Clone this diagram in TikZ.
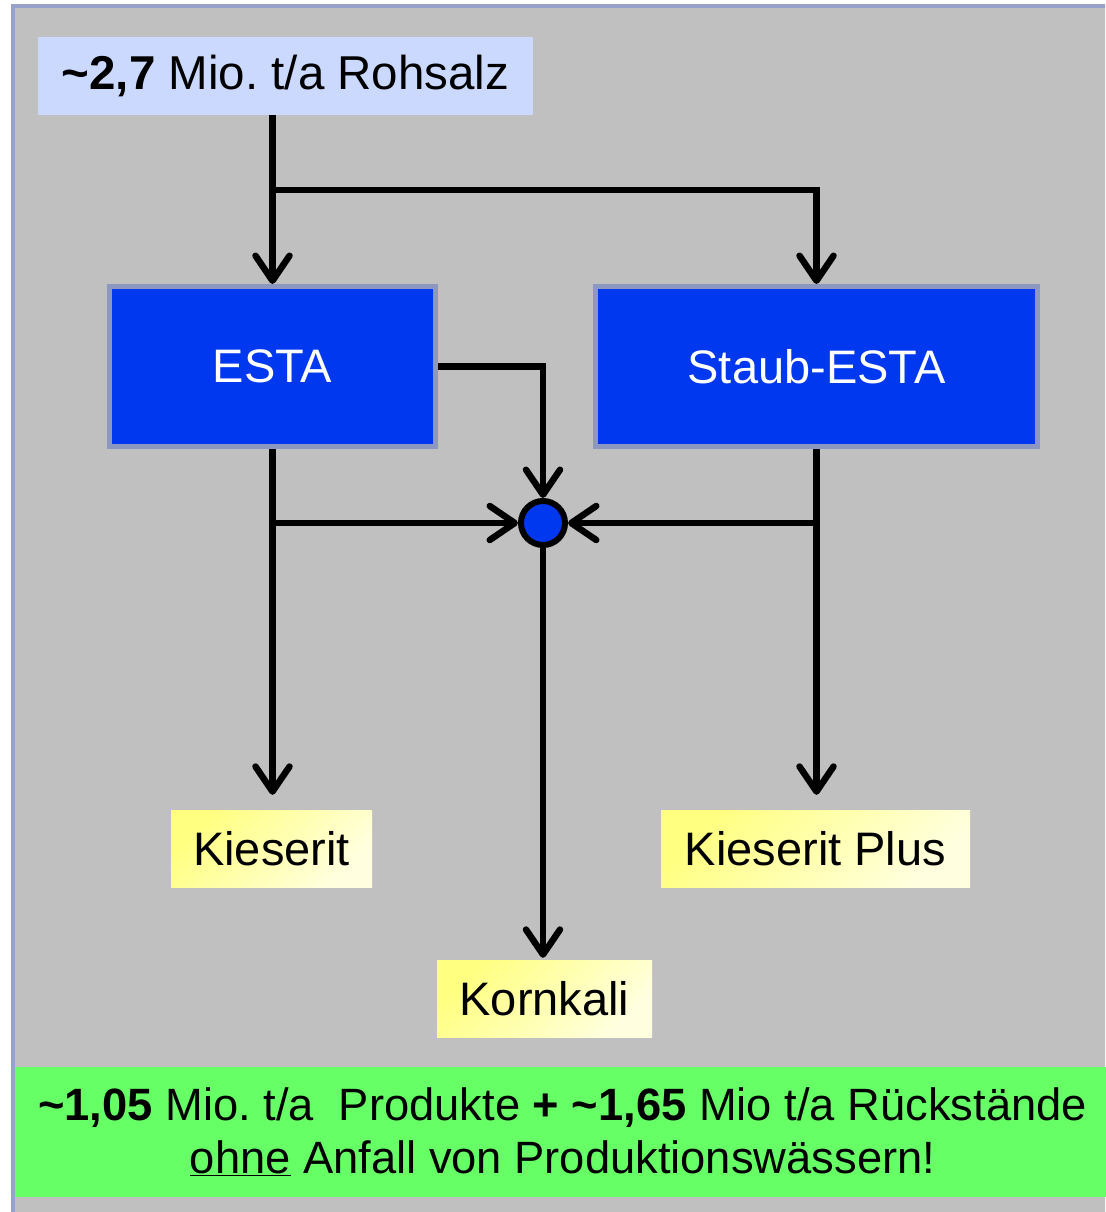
\documentclass[tikz,border=0pt]{standalone}
\usepackage{fontspec}
\setmainfont{Liberation Sans}
\frenchspacing
\usetikzlibrary{arrows.meta}
\definecolor{bgray}{RGB}{192,192,192}
\definecolor{frame}{RGB}{152,162,200}
\definecolor{rohblue}{RGB}{204,217,255}
\definecolor{boxblue}{RGB}{0,56,240}
\definecolor{boxedge}{RGB}{140,152,192}
\definecolor{yelA}{RGB}{255,255,128}
\definecolor{yelB}{RGB}{255,255,224}
\definecolor{green}{RGB}{102,255,102}
\tikzset{
  bigtext/.style={font=\fontsize{47}{56}\selectfont},
  procbox/.style={bigtext, draw=boxedge, line width=5pt, fill=boxblue, text=white, minimum height=160, inner sep=0},
  prodbox/.style={bigtext, left color=yelA, right color=yelB, shading angle=45, minimum height=77, inner sep=0},
  conn/.style={line width=6.5pt, -{Straight Barb[length=25pt, width=34pt, line cap=round, round]}},
}
\begin{document}
\begin{tikzpicture}[x=1pt,y=-1pt]
\useasboundingbox (0,0) rectangle (1105,1212);
\begin{scope}
  \clip (0,0) rectangle (1105,1212);
  \draw[line width=4pt, draw=frame, fill=bgray] (13,6) rectangle (1125,1230);
\end{scope}

\node[fill=rohblue, minimum width=495, minimum height=78, inner sep=0,
      font=\fontsize{47.5}{56}\selectfont] (roh) at (285.5,76)
  {\textbf{\textasciitilde 2,7} Mio. t/a Rohsalz};

\node[procbox, minimum width=326] (esta) at (272.5,366.5) {ESTA};
\node[procbox, minimum width=442] (staub) at (816.5,366.5) {Staub-ESTA};

\node[circle, draw=black, line width=6pt, fill=boxblue, minimum size=44, inner sep=0] (j) at (543,523) {};

\node[prodbox, minimum width=201] (kies) at (271.5,848.5) {Kieserit};
\node[prodbox, minimum width=309] (kplus) at (815.5,848.5) {Kieserit Plus};
\node[prodbox, minimum width=215] (korn) at (544.5,998.5) {Kornkali};

\node[fill=green, minimum width=1095, minimum height=130, inner sep=0, align=center,
      font=\fontsize{45.3}{53}\selectfont] (sum) at (562.5,1132)
  {\textbf{\textasciitilde 1,05} Mio. t/a\ \ Produkte \textbf{+ \textasciitilde 1,65} Mio t/a Rückstände\\
   \underline{ohne} Anfall von Produktionswässern!};

% Rohsalz feed
\draw[conn] (esta.north |- roh.south) -- (esta.north);
\coordinate (split) at (272,190);
\draw[conn] (split) -| (staub.north);

% ESTA to junction
\draw[conn] (esta.east) -| (j.north);
\draw[conn, shorten >=15pt] (esta.south) -- (esta.south |- kies.north);
\draw[conn] (esta.south |- j.west) -- (j.west);

% Staub-ESTA
\draw[conn, shorten >=15pt] (staub.south) -- (staub.south |- kplus.north);
\draw[conn] (staub.south |- j.east) -- (j.east);

% junction to Kornkali
\draw[conn, shorten >=2pt] (j.south) -- (j.south |- korn.north);
\end{tikzpicture}
\end{document}
